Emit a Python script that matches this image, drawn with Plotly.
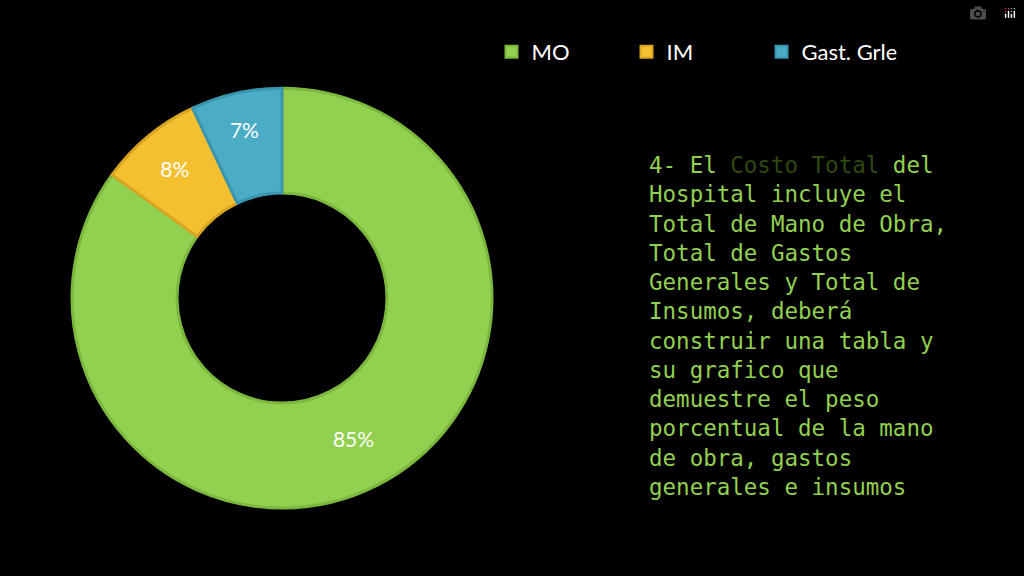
import plotly.graph_objects as go

labels = ["MO", "IM", "Gast. Grles."]
values = [85, 8, 7]
colors = ["#92D050", "#F4C030", "#4BACC6"]
edge_colors = ["#7DB83E", "#D9A520", "#3A96AE"]

text_lines = [
    "4- El <span style='color:#2E4A10'>Costo Total</span> del",
    "Hospital incluye el",
    "Total de Mano de Obra,",
    "Total de Gastos",
    "Generales y Total de",
    "Insumos, deberá",
    "construir una tabla y",
    "su grafico que",
    "demuestre el peso",
    "porcentual de la mano",
    "de obra, gastos",
    "generales e insumos",
]

fig = go.Figure(go.Pie(
    labels=labels, values=values, hole=0.5, sort=False, direction="clockwise",
    rotation=0, marker=dict(colors=colors, line=dict(color=edge_colors, width=3)),
    texttemplate="%{percent:.0%}", textposition="inside",
    insidetextfont=dict(color="white", size=21, family="Lato"),
    domain=dict(x=[0.0703, 0.4805], y=[0.118, 0.847]),
))

fig.add_annotation(
    x=647 / 1024, y=(576 - 150) / 576, xref="paper", yref="paper",
    text="<br>".join(text_lines), showarrow=False, xanchor="left", yanchor="top",
    align="left", font=dict(family="DejaVu Sans Mono", size=22.5, color="#92D050"),
)

fig.update_layout(
    width=1024, height=576, paper_bgcolor="black", plot_bgcolor="black",
    margin=dict(l=0, r=0, t=0, b=0),
    legend=dict(orientation="h", x=0.48, y=0.91, xanchor="left", yanchor="middle",
                entrywidth=90, font=dict(color="white", size=22, family="Lato"),
                itemsizing="constant"),
)
fig.write_html("out.html", post_script="document.body.style.margin='0';document.body.style.background='black';")
